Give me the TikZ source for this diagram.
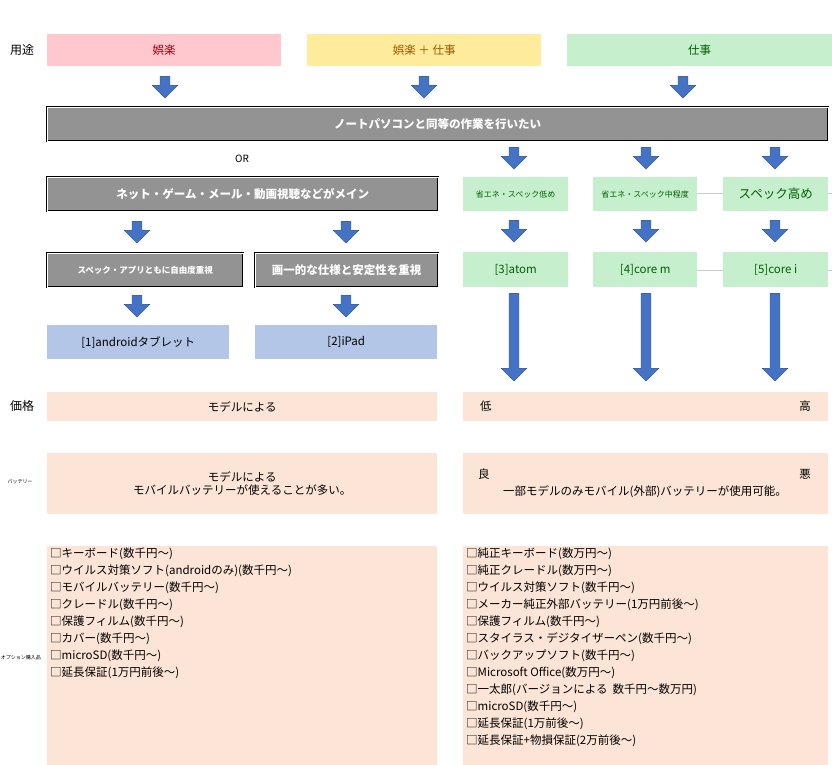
\documentclass[tikz,border=0pt]{standalone}
\usepackage{fontspec}
\setmainfont{Noto Sans CJK JP}
\usetikzlibrary{shapes.arrows}
\definecolor{pinkbg}{HTML}{FFC7CE}\definecolor{pinktx}{HTML}{9C0006}
\definecolor{yelbg}{HTML}{FFEB9C}\definecolor{yeltx}{HTML}{9C5700}
\definecolor{grnbg}{HTML}{C6EFCE}\definecolor{grntx}{HTML}{006100}
\definecolor{bluebg}{HTML}{B4C6E7}\definecolor{peach}{HTML}{FCE4D6}
\definecolor{arrblue}{HTML}{4472C4}\definecolor{banner}{HTML}{939393}
\tikzset{
  cell/.style={anchor=north west,inner sep=0pt,font=\fontsize{11.5}{13}\selectfont},
  graybox/.style={cell,fill=banner,draw=black,double=white,double distance=1pt,
    text=white,font=\fontsize{11.5}{13}\selectfont\bfseries},
  greenbox/.style={cell,fill=grnbg,text=grntx},
  down/.style={single arrow,shape border rotate=270,fill=arrblue,draw=arrblue!70!black,
    line width=0.3pt,minimum width=26pt,single arrow head extend=6pt,
    single arrow head indent=0pt,inner sep=3.5pt,anchor=north},
  side/.style={font=\fontsize{12}{14}\selectfont},
  tiny/.style={font=\fontsize{5}{6}\selectfont},
  list/.style={cell,align=left,font=\fontsize{11.5}{17}\selectfont,inner sep=3pt}
}
\begin{document}
\begin{tikzpicture}[x=1pt,y=-1pt]
\useasboundingbox (0,0) rectangle (832,765);
% side labels
\node[side] (uselbl) at (22,50) {用途};
\node[side] (pricelbl) at (22,406) {価格};
\node[tiny] (batlbl) at (20,482) {バッテリー};
\node[tiny] (optlbl) at (21,658) {オプション購入品};
% top row
\node[cell,fill=pinkbg,text=pinktx,minimum width=234pt,minimum height=32pt] (fun) at (47,34) {娯楽};
\node[cell,fill=yelbg,text=yeltx,minimum width=234pt,minimum height=32pt] (both) at (307,34) {娯楽 ＋ 仕事};
\node[cell,fill=grnbg,text=grntx,minimum width=265pt,minimum height=32pt] (work) at (567,34) {仕事};
\foreach \x/\n in {165/a1,424/a2,683/a3}
  \node[down,minimum height=22pt] (\n) at (\x,76) {};
% banner
\node[graybox,minimum width=781pt,minimum height=34pt] (pc) at (47,107) {ノートパソコンと同等の作業を行いたい};
\node[font=\fontsize{10}{12}\selectfont] (or) at (242,159) {OR};
\node[graybox,minimum width=391pt,minimum height=34pt] (net) at (47,177) {ネット・ゲーム・メール・動画視聴などがメイン};
% green spec column
\draw[gray!40] (697,193) -- (723,193) (828,193) -- (832,193) (697,270) -- (723,270) (828,270) -- (832,270);
\node[greenbox,minimum width=105pt,minimum height=34pt,font=\fontsize{8}{10}\selectfont] (low) at (463,177) {省エネ・スペック低め};
\node[greenbox,minimum width=104pt,minimum height=34pt,font=\fontsize{8}{10}\selectfont] (mid) at (593,177) {省エネ・スペック中程度};
\node[greenbox,minimum width=105pt,minimum height=34pt,font=\fontsize{12.5}{14}\selectfont] (high) at (723,177) {スペック高め};
\foreach \x/\n in {514/b1,646/b2,775/b3}
  \node[down,minimum height=22pt] (\n) at (\x,147) {};
\foreach \x/\n in {514/c1,646/c2,775/c3}
  \node[down,minimum height=22pt] (\n) at (\x,220) {};
\node[greenbox,minimum width=105pt,minimum height=35pt] (atom) at (463,252) {[3]atom};
\node[greenbox,minimum width=104pt,minimum height=35pt] (corem) at (593,252) {[4]core m};
\node[greenbox,minimum width=105pt,minimum height=35pt] (corei) at (723,252) {[5]core i};
\foreach \x/\n in {514/d1,646/d2,775/d3}
  \node[down,minimum height=88pt] (\n) at (\x,293) {};
% left column
\foreach \x/\n in {137/e1,346/e2}
  \node[down,minimum height=22pt] (\n) at (\x,221) {};
\node[graybox,minimum width=196pt,minimum height=34pt,font=\fontsize{8.5}{10}\selectfont\bfseries] (free) at (47,253) {スペック・アプリともに自由度重視};
\node[graybox,minimum width=183pt,minimum height=34pt] (stable) at (255,253) {画一的な仕様と安定性を重視};
\foreach \x/\n in {137/f1,346/f2}
  \node[down,minimum height=22pt] (\n) at (\x,295) {};
\node[cell,fill=bluebg,minimum width=182pt,minimum height=34pt] (android) at (47,325) {[1]androidタブレット};
\node[cell,fill=bluebg,minimum width=182pt,minimum height=34pt] (ipad) at (255,325) {[2]iPad};
% price
\node[cell,fill=peach,minimum width=390pt,minimum height=29pt] (priceL) at (47,392) {モデルによる};
\node[cell,fill=peach,minimum width=365pt,minimum height=29pt] (priceR) at (463,392) {};
\node[cell,anchor=west] (cheap) at (480,406) {低};
\node[cell,anchor=east] (dear) at (811,406) {高};
% battery
\node[cell,fill=peach,minimum width=390pt,minimum height=61pt,align=center] (batL) at (47,453) {モデルによる\\モバイルバッテリーが使えることが多い。};
\node[cell,fill=peach,minimum width=365pt,minimum height=61pt] (batR) at (463,453) {};
\node[cell,anchor=west] (good) at (478,474) {良};
\node[cell,anchor=east] (bad) at (811,474) {悪};
\node[cell] (batnote) at (645,492) [anchor=center] {一部モデルのみモバイル(外部)バッテリーが使用可能。};
% options
\fill[peach] (47,546) rectangle (437,765);
\fill[peach] (463,546) rectangle (828,765);
\node[list] (optL) at (47,545) {□キーボード(数千円～)\\□ウイルス対策ソフト(androidのみ)(数千円～)\\□モバイルバッテリー(数千円～)\\□クレードル(数千円～)\\□保護フィルム(数千円～)\\□カバー(数千円～)\\□microSD(数千円～)\\□延長保証(1万円前後～)};
\node[list] (optR) at (463,545) {□純正キーボード(数万円～)\\□純正クレードル(数万円～)\\□ウイルス対策ソフト(数千円～)\\□メーカー純正外部バッテリー(1万円前後～)\\□保護フィルム(数千円～)\\□スタイラス・デジタイザーペン(数千円～)\\□バックアップソフト(数千円～)\\□Microsoft Office(数万円～)\\□一太郎(バージョンによる\ \ 数千円～数万円)\\□microSD(数千円～)\\□延長保証(1万前後～)\\□延長保証+物損保証(2万前後～)};
\end{tikzpicture}
\end{document}
